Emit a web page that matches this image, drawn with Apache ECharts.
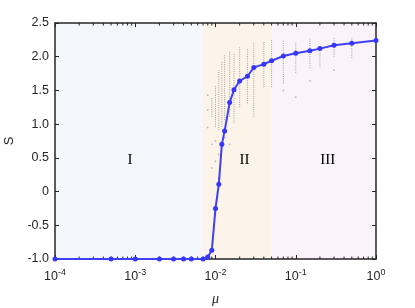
<!DOCTYPE html>
<html>
<head>
<meta charset="utf-8">
<script src="https://cdn.jsdelivr.net/npm/echarts@6/dist/echarts.min.js"></script>
<style>
  html, body { margin: 0; background: #fff; }
  #chart { width: 415px; height: 308px; }
</style>
</head>
<body>
<div id="chart"></div>
<script>
// mean S per mu
const mu = [1e-4, 5e-4, 1e-3, 2e-3, 3e-3, 4e-3, 5e-3, 7e-3, 8e-3, 9e-3, 0.01, 0.011, 0.012, 0.013,
  0.015, 0.017, 0.02, 0.025, 0.03, 0.04, 0.05, 0.07, 0.1, 0.15, 0.2, 0.3, 0.5, 1]
const S = [-1, -1, -1, -1, -1, -1, -1, -1, -0.97, -0.87, -0.25, 0.11, 0.70, 0.90,
  1.32, 1.51, 1.64, 1.71, 1.84, 1.89, 1.94, 2.01, 2.05, 2.09, 2.12, 2.17, 2.20, 2.24]

// spread of the individual runs (gray dots)
const spreadMu = [0.009, 0.01, 0.011, 0.012, 0.013, 0.015, 0.017, 0.02, 0.025, 0.03, 0.04, 0.05, 0.07, 0.1, 0.15, 0.2, 0.3, 0.5]
const spreadLow = [1.11, 0.96, 0.91, 0.96, 1.06, 1.11, 1.02, 1.25, 1.31, 1.11, 1.55, 1.55, 1.60, 1.76, 1.83, 1.85, 2.00, 1.98]
const spreadHigh = [1.39, 1.58, 1.80, 1.92, 2.03, 2.07, 2.05, 2.14, 2.13, 2.22, 2.22, 2.25, 2.25, 2.22, 2.28, 2.14, 2.28, 2.28]
const strayMu = [0.008, 0.008, 0.008, 0.009, 0.009, 0.01, 0.01, 0.011, 0.011, 0.012, 0.013, 0.015, 0.1, 0.15, 0.3, 0.07]
const strayS = [1.43, 1.21, 0.95, 0.70, 0.35, 0.75, 0.45, 0.55, 0.20, 0.60, 0.80, 0.70, 1.40, 1.64, 1.80, 1.50]

// regimes
const regionEdges = [1e-4, 0.007, 0.05, 1]
const regionNames = ['I', 'II', 'III']
const regionColors = ['#f4f8fc', '#fcf4e8', '#fbf3fa']
const regionLabelMu = [8.6e-4, 0.023, 0.25]
const regionLabelS = [0.47, 0.47, 0.47]

const minorTicks = []
for (let d = -4; d < 0; d++) {
  for (let k = 2; k <= 9; k++) minorTicks.push(k * Math.pow(10, d))
}

const axisColor = '#262626'
const font = 'Liberation Sans'

const chart = echarts.init(document.getElementById('chart'))

const option = {
  animation: false,
  grid: { left: 55, top: 23, right: 39, bottom: 49, outerBoundsMode: 'none', containLabel: false },
  xAxis: [
    {
      type: 'log', logBase: 10, min: 1e-4, max: 1, position: 'bottom', z: 2,
      name: 'μ', nameLocation: 'middle', nameGap: 33,
      nameTextStyle: { fontFamily: 'Liberation Serif', fontStyle: 'italic', fontSize: 14, color: axisColor },
      axisLine: { onZero: false, lineStyle: { color: axisColor, width: 1.5 } },
      axisTick: { inside: true, length: 4, lineStyle: { color: axisColor } },
      splitLine: { show: false },
      axisLabel: {
        margin: 9,
        formatter: v => '{b|10}{s|' + Math.round(Math.log10(v)) + '}',
        rich: {
          b: { fontFamily: font, fontSize: 12.5, color: axisColor, verticalAlign: 'bottom' },
          s: { fontFamily: font, fontSize: 9, color: axisColor, verticalAlign: 'top', padding: [0, 0, 6, 0] }
        }
      }
    },
    {
      type: 'log', logBase: 10, min: 1e-4, max: 1, position: 'top', z: 2,
      axisLine: { onZero: false, lineStyle: { color: axisColor, width: 1.5 } },
      axisTick: { inside: true, length: 4, lineStyle: { color: axisColor } },
      axisLabel: { show: false },
      splitLine: { show: false }
    }
  ],
  yAxis: [
    {
      type: 'value', min: -1, max: 2.5, interval: 0.5, z: 2,
      name: 'S', nameLocation: 'middle', nameGap: 39,
      nameTextStyle: { fontFamily: font, fontSize: 13, color: axisColor },
      axisLine: { show: true, onZero: false, lineStyle: { color: axisColor, width: 1.5 } },
      axisTick: { show: true, inside: true, length: 4, lineStyle: { color: axisColor } },
      splitLine: { show: false },
      axisLabel: {
        fontFamily: font, fontSize: 12.5, color: axisColor, margin: 6,
        formatter: v => (v === 0 ? '0' : v.toFixed(1))
      }
    },
    {
      type: 'value', min: -1, max: 2.5, interval: 0.5, position: 'right', z: 2,
      axisLine: { show: true, onZero: false, lineStyle: { color: axisColor, width: 1.5 } },
      axisTick: { show: true, inside: true, length: 4, lineStyle: { color: axisColor } },
      axisLabel: { show: false },
      splitLine: { show: false }
    }
  ],
  series: [
    {
      // regime shading
      type: 'line', z: 1, data: [], silent: true,
      markArea: {
        silent: true,
        data: regionNames.map((n, i) => [
          { xAxis: regionEdges[i], itemStyle: { color: regionColors[i] } },
          { xAxis: regionEdges[i + 1] }
        ])
      }
    },
    {
      // minor log ticks, top and bottom
      type: 'custom', z: 3, silent: true,
      data: minorTicks.map(v => [v]),
      renderItem: (params, api) => {
        const b = api.coord([api.value(0), -1])
        const t = api.coord([api.value(0), 2.5])
        const st = { stroke: axisColor, lineWidth: 1 }
        return {
          type: 'group',
          children: [
            { type: 'line', shape: { x1: b[0], y1: b[1], x2: b[0], y2: b[1] - 2.5 }, style: st },
            { type: 'line', shape: { x1: t[0], y1: t[1], x2: t[0], y2: t[1] + 2.5 }, style: st }
          ]
        }
      }
    },
    {
      // spread of runs
      type: 'custom', z: 3, silent: true,
      data: spreadMu.map((m, i) => [m, spreadLow[i], spreadHigh[i]]),
      renderItem: (params, api) => {
        const lo = api.coord([api.value(0), api.value(1)])
        const hi = api.coord([api.value(0), api.value(2)])
        return {
          type: 'line',
          shape: { x1: lo[0], y1: lo[1], x2: hi[0], y2: hi[1] },
          style: { stroke: '#a0a0a0', lineWidth: 1, lineDash: [1, 1.2] }
        }
      }
    },
    {
      type: 'scatter', z: 3, silent: true, symbolSize: 1.8,
      itemStyle: { color: '#aaaaaa' },
      data: strayMu.map((m, i) => [m, strayS[i]])
    },
    {
      // regime labels
      type: 'scatter', z: 5, silent: true, symbolSize: 0,
      itemStyle: { opacity: 1 },
      data: regionLabelMu.map((m, i) => [m, regionLabelS[i], regionNames[i]]),
      label: {
        show: true, position: 'inside', opacity: 1,
        formatter: p => p.data[2],
        fontFamily: 'Liberation Serif', fontSize: 15, color: '#000',
        textBorderWidth: 0
      }
    },
    {
      type: 'line', z: 6, clip: false,
      data: mu.map((m, i) => [m, S[i]]),
      symbol: 'circle', symbolSize: 5,
      lineStyle: { color: '#4040f6', width: 2 },
      itemStyle: { color: '#3636f6' }
    }
  ]
}

chart.setOption(option)
</script>
</body>
</html>
